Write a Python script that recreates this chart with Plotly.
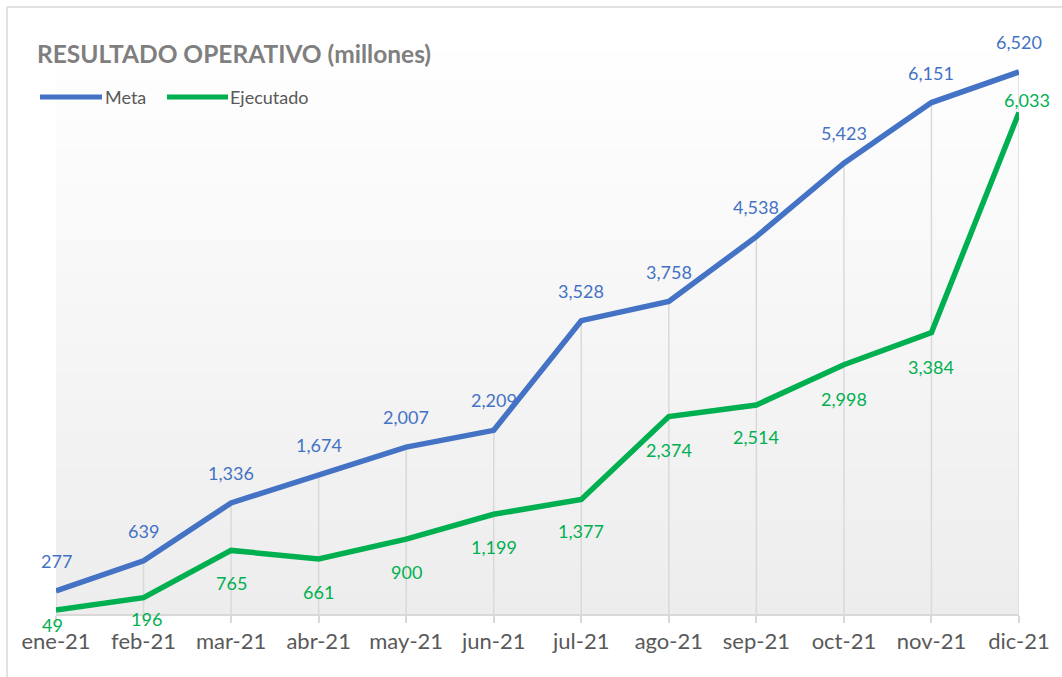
import plotly.graph_objects as go

months = ["ene-21", "feb-21", "mar-21", "abr-21", "may-21", "jun-21",
          "jul-21", "ago-21", "sep-21", "oct-21", "nov-21", "dic-21"]
meta = [277, 639, 1336, 1674, 2007, 2209, 3528, 3758, 4538, 5423, 6151, 6520]
ejecutado = [49, 196, 765, 661, 900, 1199, 1377, 2374, 2514, 2998, 3384, 6033]

BLUE = "#4472C4"
GREEN = "#00B050"
GRID = "#d9d9d9"
FONT = "Lato"

W, H = 1062, 677
L, R, T, B = 56, 43, 32, 63
PW, PH = W - L - R, H - T - B


def px_x(p):
    return (p - L) / PW


def px_y(p):
    return 1 - (p - T) / PH


fig = go.Figure()

# drop lines from the Meta points down to the axis
fig.add_trace(go.Scatter(
    x=months, y=meta, mode="markers",
    marker=dict(size=1, color="rgba(0,0,0,0)"),
    error_y=dict(type="data", symmetric=False, array=[0] * len(meta),
                 arrayminus=meta, color=GRID, thickness=1.5, width=0),
    showlegend=False, hoverinfo="skip"))

fig.add_trace(go.Scatter(x=months, y=meta, mode="lines", name="Meta",
                         line=dict(color=BLUE, width=5.5), showlegend=False))
fig.add_trace(go.Scatter(x=months, y=ejecutado, mode="lines", name="Ejecutado",
                         line=dict(color=GREEN, width=5.5), showlegend=False))

annotations = []
for m, v in zip(months, meta):
    annotations.append(dict(x=m, y=v, xref="x", yref="y", text=f"{v:,}",
                            showarrow=False, yshift=30,
                            font=dict(family=FONT, size=18, color=BLUE)))

ej_yshift = [-15, -21, -33, -33, -33, -33, -31, -33, -32, -34, -34, 12]
ej_xshift = [-4, 3] + [0] * 9 + [8]
for m, v, ys, xs in zip(months, ejecutado, ej_yshift, ej_xshift):
    annotations.append(dict(x=m, y=v, xref="x", yref="y", text=f"{v:,}",
                            showarrow=False, yshift=ys, xshift=xs,
                            font=dict(family=FONT, size=18, color=GREEN)))

# custom legend
shapes = []
legend_items = [("Meta", BLUE, 40, 102, 103), ("Ejecutado", GREEN, 167, 228, 228)]
for name, col, x0, x1, tx in legend_items:
    shapes.append(dict(type="line", xref="paper", yref="paper",
                       x0=px_x(x0), x1=px_x(x1), y0=px_y(97), y1=px_y(97),
                       line=dict(color=col, width=5)))
    annotations.append(dict(xref="paper", yref="paper", x=px_x(tx), y=px_y(97),
                            xanchor="left", yanchor="middle", text=name,
                            showarrow=False,
                            font=dict(family=FONT, size=18, color="#595959")))

# gradient plot-area background
n = 60
for k in range(n):
    t = k / (n - 1)
    c = int(round(237 + (255 - 237) * t))
    shapes.append(dict(type="rect", xref="paper", yref="paper", layer="below",
                       x0=0, x1=1, y0=k / n, y1=(k + 1) / n + 0.002,
                       fillcolor=f"rgb({c},{c},{c})", line=dict(width=0)))

# chart border (top and left)
shapes.append(dict(type="line", xref="paper", yref="paper",
                   x0=px_x(7), x1=px_x(W + 5), y0=px_y(7), y1=px_y(7),
                   line=dict(color=GRID, width=1.5)))
shapes.append(dict(type="line", xref="paper", yref="paper",
                   x0=px_x(7), x1=px_x(7), y0=px_y(7), y1=px_y(H + 5),
                   line=dict(color=GRID, width=1.5)))

fig.update_layout(
    width=W, height=H,
    margin=dict(l=L, r=R, t=T, b=B),
    paper_bgcolor="white", plot_bgcolor="rgba(0,0,0,0)",
    title=dict(text="<b>RESULTADO OPERATIVO (millones)</b>",
               x=37 / W, xanchor="left", xref="container",
               y=1 - 54 / H, yanchor="middle", yref="container",
               font=dict(family=FONT, size=24.5, color="#7f7f7f")),
    xaxis=dict(type="category", range=[0, 11], showgrid=False,
               showline=True, linecolor=GRID, linewidth=1.5,
               ticks="outside", ticklen=7, tickcolor=GRID, tickwidth=1.5,
               tickfont=dict(family=FONT, size=22, color="#595959"),
               fixedrange=True),
    yaxis=dict(range=[0, 7000], visible=False, showgrid=False,
               zeroline=False, fixedrange=True),
    annotations=annotations, shapes=shapes, showlegend=False,
)

fig.write_html("out.html",
               config={"displayModeBar": False},
               post_script="document.body.style.margin='0';"
                           "document.body.style.overflow='hidden';")
